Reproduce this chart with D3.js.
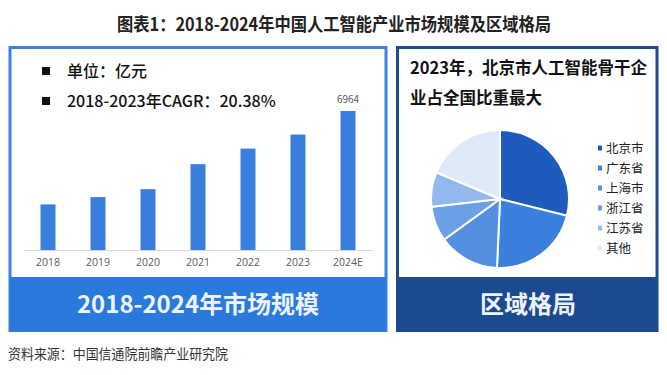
<!DOCTYPE html>
<html lang="zh">
<head>
<meta charset="UTF-8">
<title>图表1</title>
<script src="https://cdnjs.cloudflare.com/ajax/libs/d3/7.8.5/d3.min.js"></script>
<style>
    body { margin: 0; background: #fff; overflow: hidden; }
    svg { display: block; font-family: "Noto Sans CJK SC", "Noto Sans", sans-serif; }
</style>
</head>
<body>
<svg id="chart" width="667" height="375"></svg>
<script>
    // market size, 亿元
    const years = ["2018", "2019", "2020", "2021", "2022", "2023", "2024E"];
    const sizes = [2286, 2650, 3050, 4300, 5080, 5784, 6964];
    const labelled = ["2024E"];

    // share of backbone AI firms by region, 2023 (%)
    const regions = ["北京市", "广东省", "上海市", "浙江省", "江苏省", "其他"];
    const shares = [28.9, 21.8, 14.3, 8.2, 8.1, 18.7];
    const regionColors = ["#1d5cbd", "#3b80dc", "#5590e0", "#6c9fe6", "#92b8ee", "#dfe9f8"];

    const svg = d3.select("#chart");

    // title
    svg.append("text")
        .attr("x", 117).attr("y", 31)
        .attr("textLength", 434).attr("lengthAdjust", "spacingAndGlyphs")
        .style("font-size", "18px").style("font-weight", "bold").style("fill", "#222")
        .text("图表1：2018-2024年中国人工智能产业市场规模及区域格局");

    // ---- left panel ----
    const left = svg.append("g");
    left.append("rect")
        .attr("x", 10).attr("y", 47.5).attr("width", 376).attr("height", 283)
        .attr("fill", "#fff").attr("stroke", "#3c82dc").attr("stroke-width", 3);
    left.append("rect")
        .attr("x", 10).attr("y", 277).attr("width", 376).attr("height", 54)
        .attr("fill", "#2a79dd");
    left.append("text")
        .attr("x", 198).attr("y", 313).attr("text-anchor", "middle")
        .style("font-size", "24px").style("font-weight", "bold").style("fill", "#eef4ff")
        .text("2018-2024年市场规模");

    const notes = ["单位：亿元", "2018-2023年CAGR：20.38%"];
    notes.forEach((t, i) => {
        const y = 71 + i * 30;
        left.append("rect").attr("x", 42).attr("y", y - 4).attr("width", 8).attr("height", 8).attr("fill", "#111");
        left.append("text")
            .attr("x", 67).attr("y", y + 6)
            .style("font-size", "16px").style("font-weight", 500).style("fill", "#111")
            .text(t);
    });

    const x = d3.scaleBand().domain(years).range([23, 373]).paddingInner(0.7).paddingOuter(0.35);
    const y = d3.scaleLinear().domain([0, 6964]).range([250, 111]);

    left.selectAll(".bar")
        .data(years)
        .enter()
        .append("rect")
        .attr("class", "bar")
        .attr("x", d => x(d))
        .attr("y", (d, i) => y(sizes[i]))
        .attr("width", x.bandwidth())
        .attr("height", (d, i) => y(0) - y(sizes[i]))
        .attr("fill", "#3b7fde");

    left.selectAll(".val")
        .data(years.filter(d => labelled.includes(d)))
        .enter()
        .append("text")
        .attr("x", d => x(d) + x.bandwidth() / 2)
        .attr("y", d => y(sizes[years.indexOf(d)]) - 8)
        .attr("text-anchor", "middle")
        .style("font-size", "10px").style("fill", "#595959")
        .text(d => sizes[years.indexOf(d)]);

    const xAxis = left.append("g")
        .attr("transform", "translate(0,250)")
        .call(d3.axisBottom(x).tickSize(0).tickPadding(9));
    xAxis.select(".domain").attr("stroke", "#d9d9d9");
    xAxis.selectAll("text")
        .style("font-family", "'Open Sans', 'Noto Sans', sans-serif")
        .style("font-size", "10.5px").style("fill", "#595959");

    // ---- right panel ----
    const right = svg.append("g");
    right.append("rect")
        .attr("x", 397.5).attr("y", 47.5).attr("width", 259.5).attr("height", 283)
        .attr("fill", "#fff").attr("stroke", "#1e4a8e").attr("stroke-width", 3);
    right.append("rect")
        .attr("x", 397.5).attr("y", 277).attr("width", 259.5).attr("height", 54)
        .attr("fill", "#1b4a8f");
    right.append("text")
        .attr("x", 528).attr("y", 313).attr("text-anchor", "middle")
        .style("font-size", "24px").style("font-weight", "bold").style("fill", "#eef4ff")
        .text("区域格局");

    ["2023年，北京市人工智能骨干企", "业占全国比重最大"].forEach((t, i) => {
        right.append("text")
            .attr("x", 410).attr("y", 74 + i * 30)
            .style("font-size", "16.5px").style("font-weight", "bold").style("fill", "#111")
            .text(t);
    });

    const pie = d3.pie().sort(null).value(d => d);
    const arc = d3.arc().innerRadius(0).outerRadius(69);
    right.append("g")
        .attr("transform", "translate(500,199)")
        .selectAll("path")
        .data(pie(shares))
        .enter()
        .append("path")
        .attr("d", arc)
        .attr("fill", (d, i) => regionColors[i])
        .attr("stroke", "#fff")
        .attr("stroke-width", 2);

    const legend = right.selectAll(".lg")
        .data(regions)
        .enter()
        .append("g")
        .attr("class", "lg")
        .attr("transform", (d, i) => `translate(598,${148 + i * 20})`);
    legend.append("rect")
        .attr("x", 0).attr("y", -2.5).attr("width", 4).attr("height", 5)
        .attr("fill", (d, i) => regionColors[i]);
    legend.append("text")
        .attr("x", 8).attr("y", 4.5)
        .style("font-size", "12.5px").style("fill", "#222")
        .text(d => d);

    // source
    svg.append("text")
        .attr("x", 8).attr("y", 359)
        .attr("textLength", 220).attr("lengthAdjust", "spacingAndGlyphs")
        .style("font-size", "13.5px").style("fill", "#333")
        .text("资料来源：中国信通院前瞻产业研究院");
</script>
</body>
</html>
